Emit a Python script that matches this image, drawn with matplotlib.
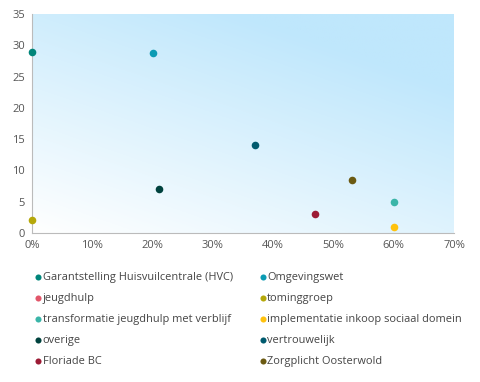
import numpy as np
from matplotlib import pyplot as plt
from matplotlib.ticker import PercentFormatter

names = ['Garantstelling Huisvuilcentrale (HVC)', 'Omgevingswet', 'jeugdhulp', 'tominggroep',
         'transformatie jeugdhulp met verblijf', 'implementatie inkoop sociaal domein',
         'overige', 'vertrouwelijk', 'Floriade BC', 'Zorgplicht Oosterwold']
x_vals = [[0], [20], [], [0], [60], [60], [21], [37], [47], [53]]
y_vals = [[29], [28.8], [], [2], [5], [1], [7], [14], [3], [8.5]]
colors = ['#00857a', '#0b9bb3', '#e2566a', '#b5a80a', '#3ab5a8', '#ffc20e',
          '#00423e', '#005a6e', '#9c1b35', '#6b5a12']

plt.rcParams['font.family'] = ['Open Sans', 'DejaVu Sans']
fig = plt.figure(figsize=(4.8, 3.82), dpi=100)
ax = fig.add_axes([32/480, 1-233/382, 422/480, 219/382])

# gradient background, white bottom-left -> light blue top-right
gx, gy = np.meshgrid(np.linspace(0, 1, 200), np.linspace(0, 1, 200))
t = np.clip((gx*0.6 + gy*0.9) / 1.2, 0, 1)
c0 = np.array([1.0, 1.0, 1.0])
c1 = np.array([0xbf, 0xe7, 0xfc]) / 255
img = c0 + (c1 - c0) * t[..., None]
ax.imshow(img, extent=[0, 1, 0, 1], transform=ax.transAxes, origin='lower',
          aspect='auto', zorder=0)

handles = []
for n, xs, ys, c in zip(names, x_vals, y_vals, colors):
    handles.append(ax.scatter(xs, ys, s=30, color=c, label=n, zorder=3, clip_on=False, linewidths=0))

ax.set_xlim(0, 70)
ax.set_ylim(0, 35)
ax.set_xticks(range(0, 71, 10))
ax.set_yticks(range(0, 36, 5))
ax.xaxis.set_major_formatter(PercentFormatter(decimals=0))
ax.tick_params(length=0, labelsize=8, colors='#555555', pad=5)
for s in ['top', 'right']:
    ax.spines[s].set_visible(False)
for s in ['left', 'bottom']:
    ax.spines[s].set_color('#bbbbbb')

# legend filled row by row, like the original
order = [0, 2, 4, 6, 8, 1, 3, 5, 7, 9]
leg = fig.legend([handles[i] for i in order], [names[i] for i in order],
                 loc='upper left', bbox_to_anchor=(22/480, 1-262/382), ncol=2, frameon=False,
                 fontsize=7.9, handletextpad=-0.2, columnspacing=2.1, labelspacing=0.92,
                 markerscale=0.8, handlelength=1.2)
for t in leg.get_texts():
    t.set_color('#444444')

fig.savefig('out.png', dpi=100)
